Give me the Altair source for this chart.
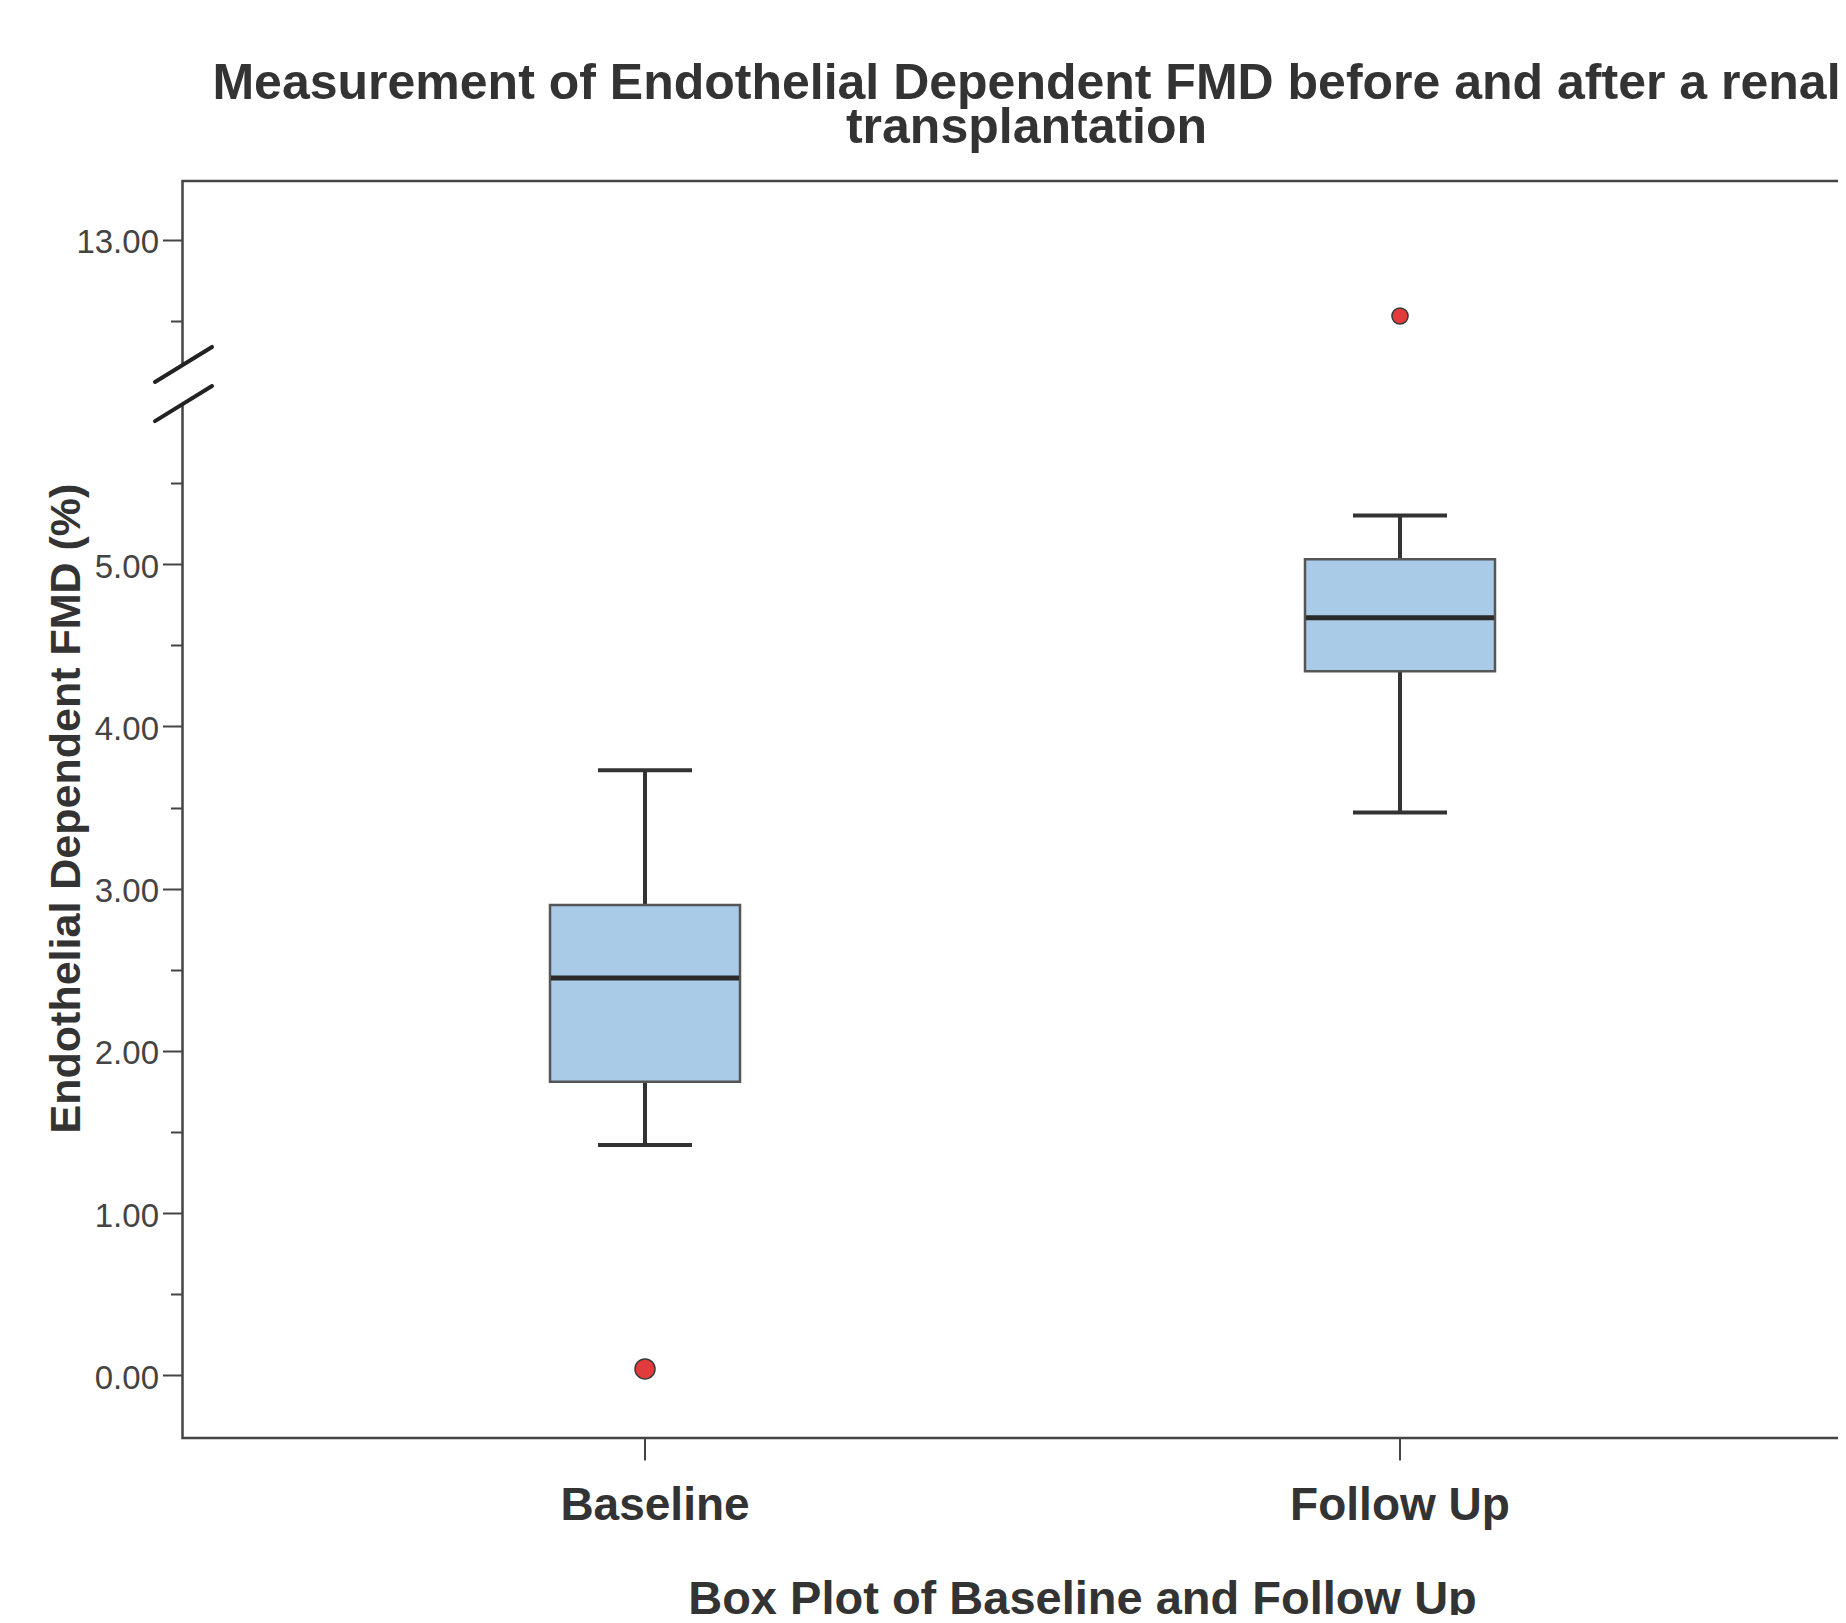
import altair as alt
import pandas as pd

# ---- data ----
categories = ["Baseline", "Follow Up"]
whisker_low = [1.42, 3.47]
q1 = [1.81, 4.34]
median = [2.45, 4.67]
q3 = [2.90, 5.03]
whisker_high = [3.73, 5.30]

outlier_group = ["Baseline", "Follow Up"]
outlier_value = [0.04, 12.53]

y_major = [0, 1, 2, 3, 4, 5, 13]
y_minor = [0.5, 1.5, 2.5, 3.5, 4.5, 5.5, 12.5]

# axis break: values above BREAK_AT are drawn shifted down by BREAK_SHIFT
BREAK_AT = 6.0
BREAK_SHIFT = 6.0
break_gap = [5.99, 6.23]          # (display units) gap in the axis line
break_slash_centers = [6.231, 5.99]
SLASH_HALF = 0.108


def disp(v):
    return v - BREAK_SHIFT if v > BREAK_AT else v


box_df = pd.DataFrame({
    "group": categories, "low": whisker_low, "q1": q1,
    "median": median, "q3": q3, "high": whisker_high,
})
out_df = pd.DataFrame({"group": outlier_group, "value": outlier_value})
gap_df = pd.DataFrame({"y1": [break_gap[0]], "y2": [break_gap[1]]})
slash_df = pd.DataFrame({
    "y1": [c - SLASH_HALF for c in break_slash_centers],
    "y2": [c + SLASH_HALF for c in break_slash_centers],
})

tick_positions = sorted(disp(v) for v in y_major + y_minor)

FONT = "Liberation Sans"
DARK = "#333333"

y_scale = alt.Scale(domain=[-0.386, 7.362], nice=False, zero=False)
y_axis = alt.Axis(
    title="Endothelial Dependent FMD (%)",
    values=tick_positions,
    labelExpr=(
        f"datum.value % 1 != 0 ? '' : "
        f"format(datum.value > {BREAK_AT} ? datum.value + {BREAK_SHIFT} : datum.value, '.2f')"
    ),
    tickSize={"condition": {"test": "datum.value % 1 != 0", "value": 12}, "value": 20},
    tickWidth=2,
    tickColor="#444444",
    labelFont=FONT,
    labelFontSize=33,
    labelColor="#444444",
    labelPadding=4,
    labelBaseline="middle",
    labelOffset=3,
    domain=False,
    grid=False,
    titleFont=FONT,
    titleFontSize=43,
    titleFontWeight="bold",
    titleColor=DARK,
    titleAngle=270,
    titleBaseline="alphabetic",
    titleAlign="center",
    titleX=-103.5,
    titleY=627,
)

x_scale = alt.Scale(paddingInner=0, paddingOuter=0.1126)
x_axis = alt.Axis(
    title="Box Plot of Baseline and Follow Up",
    labelAngle=0,
    labelFont=FONT,
    labelFontSize=46,
    labelFontWeight="bold",
    labelColor=DARK,
    labelBaseline="alphabetic",
    labelPadding=59,
    labelLimit=600,
    labelOffset={"condition": {"test": "datum.value == 'Baseline'", "value": 10}, "value": 0},
    tickSize=22,
    tickWidth=2,
    tickColor="#444444",
    domain=False,
    grid=False,
    titleFont=FONT,
    titleFontSize=47,
    titleFontWeight="bold",
    titleColor=DARK,
    titleBaseline="alphabetic",
    titleAlign="center",
    titleX=899.5,
    titleY=175,
    titleLimit=1200,
)

x_enc = alt.X("group:N", scale=x_scale, axis=x_axis, sort=categories)

base = alt.Chart(box_df)

whiskers = base.mark_rule(color=DARK, strokeWidth=4).encode(
    x=x_enc,
    y=alt.Y("low:Q", scale=y_scale, axis=y_axis),
    y2="high:Q",
)

boxes = base.mark_bar(size=190, fill="#A9CBE8", stroke="#555555",
                      strokeWidth=2.5, opacity=1).encode(
    x=x_enc,
    y=alt.Y("q1:Q", scale=y_scale, axis=y_axis),
    y2="q3:Q",
)

medians = base.mark_tick(size=188, thickness=5, color="#2a2a2a", opacity=1).encode(
    x=x_enc,
    y=alt.Y("median:Q", scale=y_scale, axis=y_axis),
)

caps = base.transform_fold(["low", "high"], as_=["kind", "v"]).mark_tick(
    size=94, thickness=4, color=DARK, opacity=1
).encode(
    x=x_enc,
    y=alt.Y("v:Q", scale=y_scale, axis=y_axis),
)

outliers = alt.Chart(out_df).transform_calculate(
    disp=f"datum.value > {BREAK_AT} ? datum.value - {BREAK_SHIFT} : datum.value"
).mark_circle(color="#E23B3B", stroke="#3a3a3a", strokeWidth=1.5, opacity=1).encode(
    x=x_enc,
    y=alt.Y("disp:Q", scale=y_scale, axis=y_axis),
    size=alt.condition(alt.datum.group == "Baseline", alt.value(400), alt.value(260)),
)

gap = alt.Chart(gap_df).mark_rule(color="white", strokeWidth=7).encode(
    x=alt.value(0),
    y=alt.Y("y1:Q", scale=y_scale, axis=y_axis),
    y2="y2:Q",
)

slashes = alt.Chart(slash_df).mark_rule(color="#222222", strokeWidth=4,
                                        strokeCap="round").encode(
    x=alt.value(-27.5),
    x2=alt.value(29.5),
    y=alt.Y("y1:Q", scale=y_scale, axis=y_axis),
    y2="y2:Q",
)

chart = alt.layer(
    whiskers, boxes, medians, caps, outliers, gap, slashes
).properties(
    width=1680,
    height=1257,
    autosize=alt.AutoSizeParams(type="none"),
    padding={"left": 174.5, "top": 173, "right": -24.5, "bottom": 177},
    title=alt.TitleParams(
        text=["Measurement of Endothelial Dependent FMD before and after a renal",
              "transplantation"],
        font=FONT,
        fontSize=50,
        fontWeight="bold",
        color=DARK,
        lineHeight=44,
        baseline="alphabetic",
        anchor="middle",
        frame="group",
        offset=6,
        dx=4,
        dy=18,
    ),
).configure(
    background="white",
    view=alt.ViewConfig(stroke="#444444", strokeWidth=2.5),
)

chart.save("out.html", embed_options={"renderer": "svg", "actions": False})
